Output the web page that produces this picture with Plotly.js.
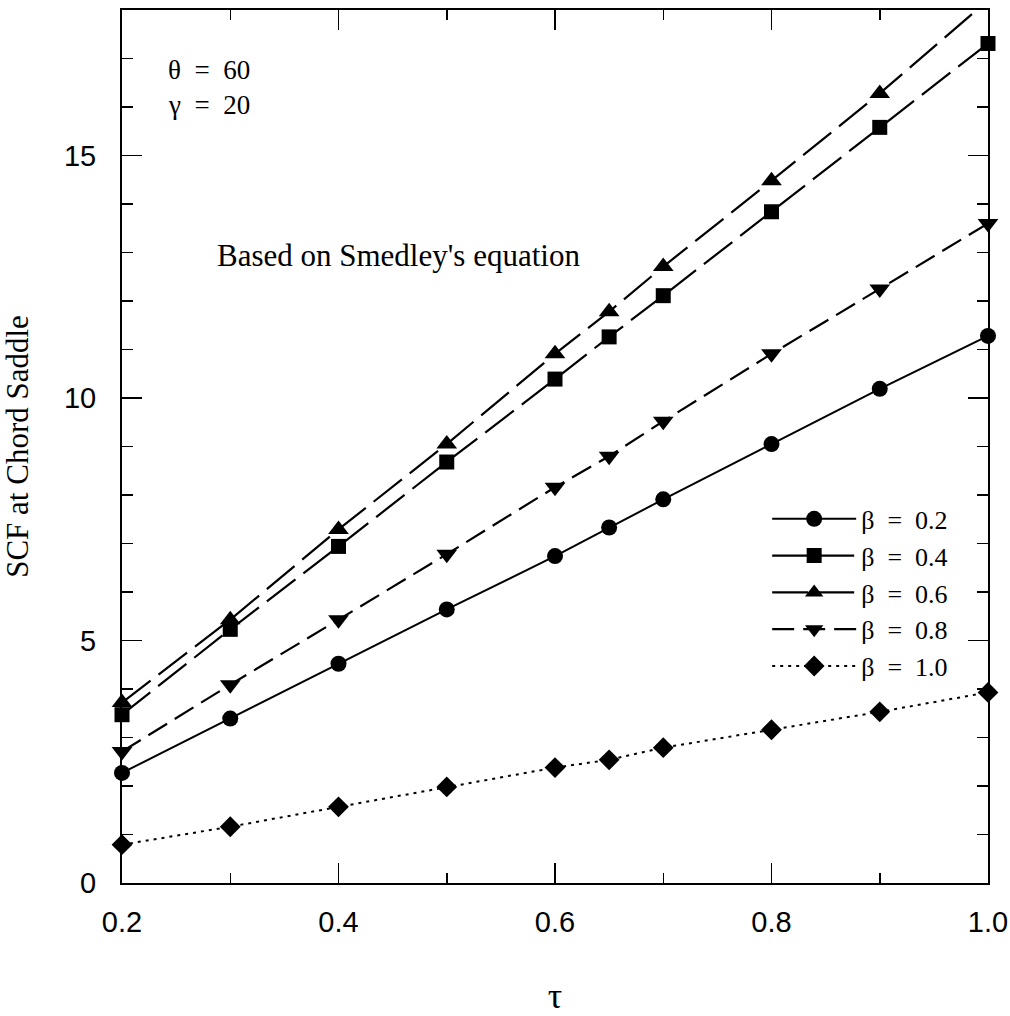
<!DOCTYPE html>
<html><head><meta charset="utf-8">
<script src="https://cdn.plot.ly/plotly-3.0.1.min.js"></script>
<style>body{margin:0;background:#fff}</style>
</head><body>
<div id="chart" style="width:1010px;height:1016px"></div>
<script>
// tau values (x axis)
const tau = [0.2, 0.3, 0.4, 0.5, 0.6, 0.65, 0.7, 0.8, 0.9, 1.0];
// SCF at chord saddle for each beta
const scfBeta02 = [2.27, 3.39, 4.52, 5.64, 6.74, 7.33, 7.91, 9.05, 10.19, 11.28];
const scfBeta04 = [3.47, 5.23, 6.94, 8.68, 10.39, 11.26, 12.11, 13.84, 15.58, 17.31];
const scfBeta06 = [3.72, 5.43, 7.29, 9.05, 10.91, 11.78, 12.71, 14.48, 16.28, 18.2];
const scfBeta08 = [2.71, 4.09, 5.43, 6.78, 8.16, 8.80, 9.52, 10.91, 12.25, 13.6];
const scfBeta10 = [0.79, 1.16, 1.57, 1.98, 2.38, 2.54, 2.79, 3.16, 3.53, 3.93];
const seriesNames = ['\u03B2\u00A0\u00A0=\u00A0\u00A00.2', '\u03B2\u00A0\u00A0=\u00A0\u00A00.4', '\u03B2\u00A0\u00A0=\u00A0\u00A00.6', '\u03B2\u00A0\u00A0=\u00A0\u00A00.8', '\u03B2\u00A0\u00A0=\u00A0\u00A01.0'];
const xTickVals = [0.2, 0.4, 0.6, 0.8, 1.0];
const yTickVals = [0, 5, 10, 15];

const serif = '"Liberation Serif", "Times New Roman", Times, serif';
const sans = '"Liberation Sans", Arial, Helvetica, sans-serif';

function mk(y, name, symbol, size, dash, width) {
  return {
    x: tau, y: y, name: name, type: 'scatter', mode: 'lines+markers',
    cliponaxis: false,
    line: {color: '#000', width: width, dash: dash},
    marker: {symbol: symbol, size: size, color: '#000'}
  };
}

const traces = [
  mk(scfBeta02, seriesNames[0], 'circle', 16, 'solid', 2),
  mk(scfBeta04, seriesNames[1], 'square', 15, '36px,10px', 2.2),
  mk(scfBeta06, seriesNames[2], 'triangle-up', 18, '36px,10px', 2.2),
  mk(scfBeta08, seriesNames[3], 'triangle-down', 18, '22px,9px', 2.2),
  mk(scfBeta10, seriesNames[4], 'diamond', 16, '3px,5px', 2)
];

const axisCommon = {
  showline: true, linecolor: '#000', linewidth: 2, mirror: 'allticks',
  ticks: 'inside', ticklen: 20, tickwidth: 1.5, tickcolor: '#000',
  showgrid: false, zeroline: false, layer: 'below traces',
  tickfont: {family: sans, size: 29, color: '#000'}
};

const layout = {
  width: 1010, height: 1016,
  margin: {l: 122, r: 22, t: 10, b: 133},
  paper_bgcolor: '#fff', plot_bgcolor: '#fff',
  showlegend: true,
  legend: {
    x: 0.745, y: 0.444, xanchor: 'left', yanchor: 'top',
    bgcolor: 'rgba(0,0,0,0)', borderwidth: 0,
    font: {family: serif, size: 26, color: '#000'},
    itemwidth: 84, tracegroupgap: 0
  },
  xaxis: Object.assign({}, axisCommon, {
    range: [0.2, 1.0], tickvals: xTickVals, tickformat: '.1f',
    ticklabelstandoff: 12,
    minor: {dtick: 0.1, ticks: 'inside', ticklen: 10, tickwidth: 1.5, tickcolor: '#000', showgrid: false},
    title: {text: '\u03C4', font: {family: serif, size: 36, color: '#000'}, standoff: 60}
  }),
  yaxis: Object.assign({}, axisCommon, {
    range: [0, 18], tickvals: yTickVals,
    ticklabelstandoff: 18,
    minor: {dtick: 1, ticks: 'inside', ticklen: 11, tickwidth: 1.5, tickcolor: '#000', showgrid: false},
    title: {text: 'SCF at Chord Saddle', font: {family: serif, size: 31, color: '#000'}, standoff: 30}
  }),
  annotations: [
    {xref: 'paper', yref: 'paper', x: 0.150, y: 0.911, xanchor: 'right', yanchor: 'middle', align: 'right',
     showarrow: false, text: '\u03B8\u00A0\u00A0=\u00A0\u00A060<br>\u03B3\u00A0\u00A0=\u00A0\u00A020',
     font: {family: serif, size: 27, color: '#000'}},
    {xref: 'paper', yref: 'paper', x: 0.107, y: 0.719, xanchor: 'left', yanchor: 'middle',
     showarrow: false, text: "Based on Smedley's equation",
     font: {family: serif, size: 31, color: '#000'}}
  ]
};

Plotly.newPlot('chart', traces, layout, {staticPlot: true});
</script>
</body></html>
